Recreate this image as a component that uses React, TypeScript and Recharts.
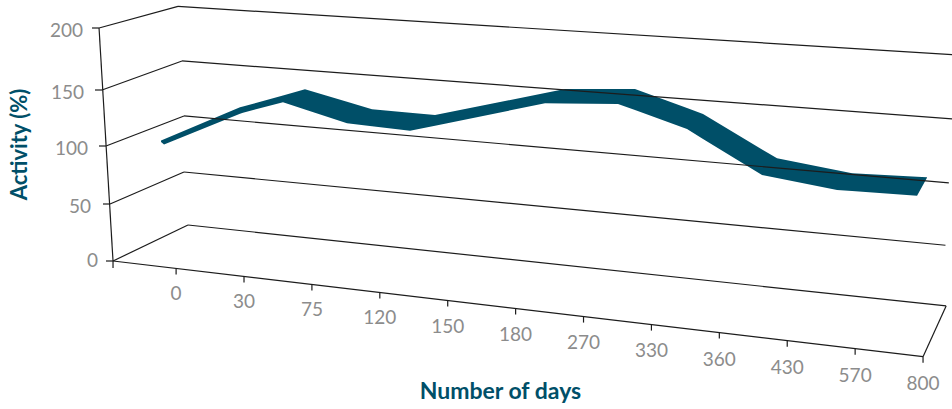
import React from 'react'
import {AreaChart, Area, XAxis, YAxis, ReferenceLine} from 'recharts'

const days = ['0', '30', '75', '120', '150', '180', '270', '330', '360', '430', '570', '800']
const dayPositions = [0, 1, 2, 3, 4, 5, 6, 7, 8, 9, 10, 11]
const activityTicks = [0, 50, 100, 150, 200]

// the ribbon as it looks on the page: position along the day axis, then its lower and upper edge
const ribbonPos = [-0.222, -0.178, 0.941, 0.985, 1.574, 1.898, 2.517, 2.885, 3.445, 3.813, 5.433, 5.727, 6.508, 6.758, 7.524, 7.76, 8.629, 8.85, 9.734, 9.955, 10.912, 11.058]
const ribbonLow = [102.1, 99.9, 126.3, 127.3, 136.2, 130, 118.2, 115.6, 111.8, 116.2, 135.4, 135.2, 134.8, 129.6, 113.3, 104.7, 73.8, 71.2, 60.9, 60, 56.1, 71.4]
const ribbonHigh = [103.4, 104.5, 131.9, 132.6, 142.1, 147.4, 136.6, 130.2, 127.3, 125.3, 144.2, 147.6, 147.6, 147.6, 131.3, 126.2, 95.7, 88.2, 77.9, 75.3, 72.3, 71.8]

// 3D box edges, read in axis units: [position, activity]
const boxEdges = [
  [[-1.135, 200], [0.028, 218.5]],
  [[0.028, 218.5], [11.43, 177.1]],
  [[-1.091, 146.8], [0.087, 171.7]],
  [[0.087, 171.7], [11.43, 121.9]],
  [[-1.032, 98.7], [0.116, 124.5]],
  [[0.116, 124.5], [11.38, 67]],
  [[-0.973, 48.9], [0.116, 76.4]],
  [[0.116, 76.4], [11.33, 13.5]],
  [[-0.929, 0], [0.175, 30.9]],
  [[0.175, 30.9], [11.34, -38.6]],
  [[-0.929, 0], [11, -82.1]],
  [[11, -82.1], [11.34, -38.6]],
  [[-1.135, 200], [-0.929, 0]],
  [[-0.929, 0], [-0.929, -6]],
]

const tableData = ribbonPos.map((pos, i) => ({pos, band: [ribbonLow[i], ribbonHigh[i]]}))

const FONT = 'Lato, sans-serif'
const TEAL = '#004f68'
const GREY = '#8c8c8c'
const LINE = '#1c1c1c'
const FRONT_LEFT = {x: 113, y: 261}

// labels and tick marks follow the slanted front edges of the box
const yTickSpot: Record<number, {tickX: number; tickY: number; textX: number; textY: number}> = {
  200: {tickX: 92, tickY: 28, textX: 83, textY: 29},
  150: {tickX: 95, tickY: 90, textX: 84, textY: 91},
  100: {tickX: 99, tickY: 146, textX: 88, textY: 147},
  50: {tickX: 103, tickY: 204, textX: 91, textY: 205},
  0: {tickX: 106, tickY: 261, textX: 98, textY: 259},
}

function DayTick({x, index, payload}: any) {
  const edgeY = FRONT_LEFT.y + 0.1181 * (x - FRONT_LEFT.x)
  return (
    <g>
      <line x1={x} x2={x} y1={edgeY} y2={edgeY + 6} stroke={LINE} strokeWidth={1.2} />
      <text x={x} y={292 + index * 8.27} textAnchor="middle" dominantBaseline="central" fill={GREY} fontFamily={FONT} fontWeight={400} fontSize={19}>
        {days[payload.value]}
      </text>
    </g>
  )
}

function ActivityTick({payload}: any) {
  const spot = yTickSpot[payload.value]
  return (
    <g>
      <line x1={spot.tickX} x2={spot.tickX + 7} y1={spot.tickY} y2={spot.tickY} stroke={LINE} strokeWidth={1.2} />
      <text x={spot.textX} y={spot.textY} textAnchor="end" dominantBaseline="central" fill={GREY} fontFamily={FONT} fontWeight={400} fontSize={19}>
        {payload.value}
      </text>
    </g>
  )
}

export default function App() {
  return (
    <div style={{position: 'absolute', left: 0, top: 0, width: 952, height: 409}}>
      <AreaChart width={952} height={409} data={tableData} margin={{top: 28, right: 1.8, bottom: 118, left: 34.62}}>
        <XAxis
          dataKey="pos"
          type="number"
          domain={[-1.2, 11.4]}
          ticks={dayPositions}
          interval={0}
          height={30}
          axisLine={false}
          tickLine={false}
          tick={<DayTick />}
          label={{value: 'Number of days', position: 'bottom', dx: -22, dy: 87, fill: TEAL, fontFamily: FONT, fontWeight: 700, fontSize: 23}}
        />
        <YAxis
          type="number"
          domain={[0, 200]}
          ticks={activityTicks}
          width={60}
          axisLine={false}
          tickLine={false}
          tick={<ActivityTick />}
          label={{value: 'Activity (%)', angle: -90, position: 'left', textAnchor: 'middle', dx: -10, dy: 0, fill: TEAL, fontFamily: FONT, fontWeight: 700, fontSize: 22}}
        />
        {boxEdges.map((edge, i) => (
          <ReferenceLine
            key={i}
            ifOverflow="visible"
            stroke={LINE}
            strokeWidth={1.2}
            segment={edge.map(([x, y]) => ({x, y}))}
          />
        ))}
        <Area type="linear" dataKey="band" stroke="none" fill={TEAL} fillOpacity={1} isAnimationActive={false} dot={false} activeDot={false} />
      </AreaChart>
    </div>
  )
}
